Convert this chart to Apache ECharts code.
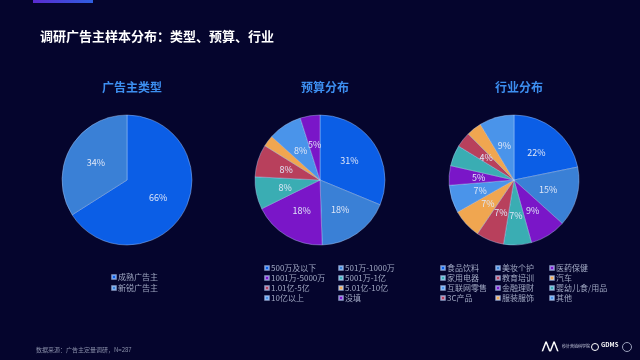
<!DOCTYPE html>
<html>
<head>
<meta charset="utf-8">
<script src="https://cdn.jsdelivr.net/npm/echarts@6/dist/echarts.min.js"></script>
<style>
html,body{margin:0;padding:0;background:#05052d;}
#c{width:640px;height:360px;}
</style>
</head>
<body>
<div id="c"></div>
<script>
// ---- data ----
var typeNames = ['成熟广告主', '新锐广告主'];
var typeValues = [66, 34];

var budgetNames = ['500万及以下', '501万-1000万', '1001万-5000万', '5001万-1亿', '1.01亿-5亿', '5.01亿-10亿', '10亿以上', '没填'];
var budgetValues = [89, 52, 52, 23, 23, 8, 24, 14];

var industryNames = ['食品饮料', '美妆个护', '医药保健', '家用电器', '教育培训', '汽车', '互联网零售', '金融理财', '婴幼儿食/用品', '3C产品', '服装服饰', '其他'];
var industryValues = [63, 43, 26, 20, 20, 21, 20, 14, 15, 11, 11, 25];

var chartTitles = ['广告主类型', '预算分布', '行业分布'];
var mainTitle = '调研广告主样本分布：类型、预算、行业';
var sourceText = '数据来源：广告主定量调研，N=287';

// ---- styles ----
var palette = ['#0b5ee6', '#3a80d6', '#7a16c8', '#3aadb3', '#b8405c', '#f0a650', '#4a94ea', '#7a16c8', '#3aadb3', '#b8405c', '#f0a650', '#4a94ea'];
var FONT = '"Noto Sans CJK SC", "Noto Sans", sans-serif';
var centersX = [127, 320, 514];
var centerY = 180;
var R = 65;

function mk(names, values) {
  return names.map(function (n, i) {
    return { name: n, value: values[i], itemStyle: { color: palette[i % palette.length] } };
  });
}

function pieSeries(names, values, cx) {
  return {
    type: 'pie',
    center: [cx, centerY],
    radius: [0, R],
    startAngle: 90,
    clockwise: true,
    avoidLabelOverlap: false,
    color: palette,
    data: mk(names, values),
    itemStyle: { borderColor: 'rgba(190,215,255,0.55)', borderWidth: 0.7 },
    label: {
      show: true,
      position: 'inside',
      color: '#dfe6f7',
      fontSize: 9,
      fontFamily: FONT,
      formatter: function (p) { return p.percent < 3.5 ? '' : Math.round(p.percent) + '%'; }
    },
    labelLine: { show: false },
    emphasis: { disabled: true },
    animation: false
  };
}

function legendCol(items, left, top) {
  return {
    data: items,
    orient: 'vertical',
    left: left,
    top: top,
    itemWidth: 4,
    itemHeight: 4,
    itemGap: 2,
    icon: 'rect',
    selectedMode: false,
    textStyle: { color: '#a0a8c2', fontSize: 8, fontFamily: FONT, lineHeight: 8, padding: [0, 0, 0, -3] }
  };
}

function pick(arr, start, step) {
  var out = [];
  for (var i = start; i < arr.length; i += step) out.push(arr[i]);
  return out;
}

var titles = chartTitles.map(function (t, i) {
  return {
    text: t,
    left: centersX[i],
    textAlign: 'center',
    top: 76,
    textStyle: { color: '#3d8ff0', fontSize: 12, fontWeight: 'bold', fontFamily: FONT }
  };
});
titles.unshift({
  text: mainTitle,
  left: 35,
  top: 25,
  textStyle: { color: '#ffffff', fontSize: 13, fontWeight: 'bold', fontFamily: FONT }
});

var chart = echarts.init(document.getElementById('c'), null, { renderer: 'canvas' });
chart.setOption({
  backgroundColor: '#05052d',
  color: palette,
  animation: false,
  title: titles,
  legend: [
    Object.assign(legendCol(typeNames, 106, 268), { itemGap: 3 }),
    legendCol(pick(budgetNames, 0, 2), 259, 259),
    legendCol(pick(budgetNames, 1, 2), 333, 259),
    legendCol(pick(industryNames, 0, 3), 435, 259),
    legendCol(pick(industryNames, 1, 3), 490, 259),
    legendCol(pick(industryNames, 2, 3), 544, 259)
  ],
  series: [
    pieSeries(typeNames, typeValues, centersX[0]),
    pieSeries(budgetNames, budgetValues, centersX[1]),
    pieSeries(industryNames, industryValues, centersX[2])
  ],
  graphic: [
    {
      type: 'rect', shape: { x: 33, y: 0, width: 60, height: 3 },
      style: { fill: new echarts.graphic.LinearGradient(0, 0, 1, 0, [{ offset: 0, color: '#5a2bd0' }, { offset: 1, color: '#2f5fe0' }]) }
    },
    {
      type: 'text', left: 36, top: 347,
      style: { text: sourceText, fill: '#8a90aa', fontSize: 6, fontFamily: FONT }
    },
    {
      type: 'text', left: 542, top: 340,
      style: { text: '⋀⋀', fill: '#ffffff', fontSize: 10, fontWeight: 'bold', fontFamily: FONT }
    },
    {
      type: 'text', left: 562, top: 344,
      style: { text: '秒针营销科学院', fill: '#c8cce0', fontSize: 4, fontFamily: FONT }
    },
    {
      type: 'circle', shape: { cx: 595, cy: 347, r: 3.5 },
      style: { fill: 'none', stroke: '#ffffff', lineWidth: 1 }
    },
    {
      type: 'text', left: 601, top: 342,
      style: { text: 'GDMS', fill: '#ffffff', fontSize: 6, fontWeight: 'bold', fontFamily: FONT }
    },
    {
      type: 'circle', shape: { cx: 627, cy: 347, r: 4.5 },
      style: { fill: 'none', stroke: '#9aa0bb', lineWidth: 1 }
    }
  ]
});
</script>
</body>
</html>
